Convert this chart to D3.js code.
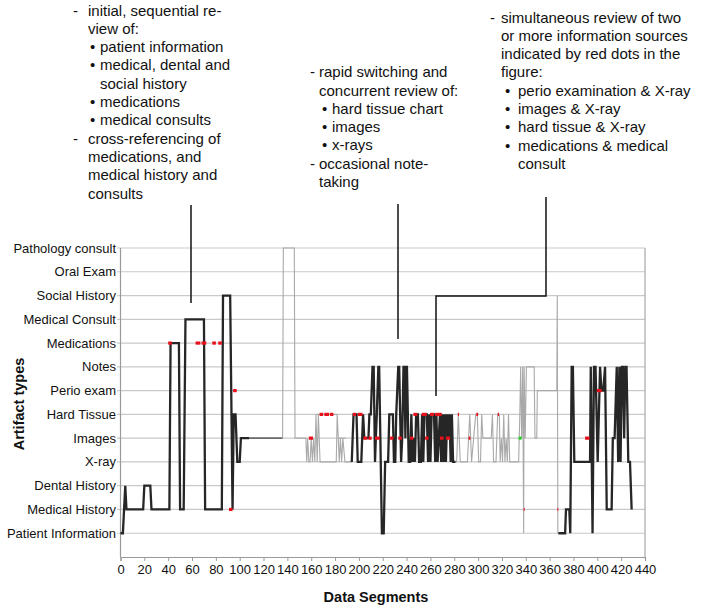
<!DOCTYPE html>
<html><head><meta charset="utf-8">
<script src="https://cdn.jsdelivr.net/npm/d3@7"></script>
<style>
html,body{margin:0;padding:0;background:#fff;}
svg{display:block;font-family:"Liberation Sans",Arial,sans-serif;}
</style></head>
<body>
<svg id="chart" width="701" height="610"></svg>
<script>
// ---- categories (level 1 .. 13, bottom to top)
const categories = ["Patient Information","Medical History","Dental History","X-ray","Images","Hard Tissue","Perio exam","Notes","Medications","Medical Consult","Social History","Oral Exam","Pathology consult"];
const xTicks = [0,20,40,60,80,100,120,140,160,180,200,220,240,260,280,300,320,340,360,380,400,420,440];

// ---- series: [segment, level]
const blackSeg1 = [[0,1],[2,1],[4,3],[5,2],[19,2],[20,3],[25,3],[26,2],[41,2],[42,9],[49,9],[50,2],[53,2],[54.5,10],[70,10],[71,2],[85,2],[86,11],[92,11],[94,2],[95,6],[96.5,6],[98,4],[100,4],[101,5],[108,5]];
const darkGraySeg = [[108,5],[136,5]];
const graySeg1 = [[136,5],[136.6,13],[145.8,13],[146.4,5],[155.5,5],[156.2,4],[157,5],[158,4],[159,4],[160,5],[161,4],[162,5],[163,4],[164,6],[165,4],[166,6],[167.4,4],[181,4],[181.8,6],[182.7,5],[183.5,4],[184.5,5],[185.5,4],[186.5,5],[188.3,4],[194,4]];
const grayFlats = [[164,181.8,6],[182.7,189,5]];
const blackSeg2 = [[194,4],[195.5,6],[198,6],[199,4],[202,4],[203.5,6],[204.5,5],[208,5],[208.8,6],[210,6],[211.4,8],[212.4,8],[213.5,4],[214.2,5],[215,6],[216.3,8],[217,8],[219.3,1],[220.8,1],[222,4],[224.5,4],[225.5,6],[228.5,6],[229.4,4],[230.5,4],[231.3,6],[233,8],[233.8,8],[235.4,4],[236.3,5],[237.4,8],[238.2,8],[239,5],[239.6,8],[240.3,8],[241.8,4],[243,4],[244,6],[245,4],[246,5],[247,4],[248,6],[249.5,6],[250.5,4],[252,4],[253,6],[254,4],[255,6],[257,6],[258,4],[259,6],[260,4],[261,6],[263,6],[264,4],[265,6],[266,4],[267,5],[268,6],[269,4],[270,6],[271,4],[272,6],[273,4],[274,6],[275,5],[276,6],[277,4],[278,6],[279,4],[281,4]];
const graySeg2 = [[279,4],[282,4],[283.4,6],[285,4],[291,4],[292,5],[293,6],[294.5,4],[298,6],[299.3,6],[300.5,4],[302,4],[303,6],[304,5],[311,5],[312,6],[313,4],[315,4],[316.4,6],[317.8,6],[318.5,4],[319.5,5],[320.5,4],[321.5,6],[322.5,4],[323.5,5],[324.5,4],[325.5,6],[326.5,4],[334,4],[335,6],[335.7,8],[336.5,5],[337.4,8],[338.2,1],[338.6,8],[339.5,5],[340.5,8],[347,8],[347.7,5],[349.2,5],[349.7,7],[366,7],[366.4,11],[366.9,1]];
const blackSeg3 = [[367.3,1],[373,1],[373.7,2],[376.5,2],[377.3,1],[378.5,8],[379.5,8],[380.7,4],[393.9,4],[394.5,8],[396,1],[397.2,8],[398.5,8],[400.3,4],[402.3,8],[403.5,7],[405,7],[406.5,8],[407.9,2],[412,2],[413,5],[414.5,5],[416.3,8],[417.5,4],[418.5,8],[419.5,4],[420.5,8],[421.5,8],[422.5,5],[423.5,8],[424.5,8],[426,4],[427.4,4],[428.8,2]];

// ---- simultaneous review marks: [from, to, level]
const redMarks = [[40,43,9],[63,67,9],[68,72,9],[77,80,9],[82,85,9],[91,94,2],[94.5,97.5,7],[158,161.5,5],[167,170,6],[171,175,6],[175.8,178.6,6],[195,197.5,6],[199,203,6],[203.8,207,5],[208,210.7,5],[213.5,217.5,5],[226,229,5],[233,236,5],[242.9,245.7,5],[245.7,249,6],[252.7,256.9,6],[255.5,258.3,5],[259.7,263,6],[264,269.5,6],[268,271,5],[273,276.5,5],[283,284,6],[292,293.5,5],[298.5,300,6],[316.5,317.5,6],[338.3,339,2],[366.5,367.2,2],[389.7,393.5,5],[399.5,403.7,7]];
const greenMarks = [[334,336.5,5]];

// ---- annotations
const noteLeft = [["-","initial, sequential re-"],["","view of:"],["•","patient information"],["•","medical, dental and"],["","social history"],["•","medications"],["•","medical consults"],["-","cross-referencing of"],["","medications, and"],["","medical history and"],["","consults"]];
const noteMid = [["-","rapid switching and"],["","concurrent review of:"],["•","hard tissue chart"],["•","images"],["•","x-rays"],["-","occasional note-"],["","taking"]];
const noteRight = [["-","simultaneous review of two"],["","or more information sources"],["","indicated by red dots in the"],["","figure:"],["•","perio examination & X-ray"],["•","images & X-ray"],["•","hard tissue & X-ray"],["•","medications & medical"],["","consult"]];

const svg = d3.select("#chart");
const x = d3.scaleLinear().domain([0,440]).range([120.5,645]);
const y = d3.scaleLinear().domain([0,13]).range([557,248]);

// gridlines
svg.append("g").selectAll("line").data(d3.range(1,14)).join("line")
  .attr("x1",117).attr("x2",645).attr("y1",d=>y(d)).attr("y2",d=>y(d))
  .attr("stroke","#c9c9c9").attr("stroke-width",1.2);
// frame
svg.append("line").attr("x1",645).attr("x2",645).attr("y1",y(13)).attr("y2",y(0)).attr("stroke","#a8a8a8").attr("stroke-width",1.2);
svg.append("line").attr("x1",120.5).attr("x2",120.5).attr("y1",y(13)).attr("y2",y(0)).attr("stroke","#999").attr("stroke-width",1.2);

// x axis
const xAxis = d3.axisBottom(x).tickValues(xTicks).tickSize(4).tickFormat(d3.format("d"));
const gx = svg.append("g").attr("transform",`translate(0,${y(0)})`).call(xAxis);
gx.select(".domain").attr("stroke","#999").attr("stroke-width",1.2);
gx.selectAll(".tick line").attr("stroke","#999");
gx.selectAll(".tick text").attr("font-size",13).attr("font-family","Liberation Sans, Arial, sans-serif").attr("fill","#111").attr("dy","0.85em").attr("y",6);

// y labels
const gy = svg.append("g");
gy.selectAll("text").data(categories).join("text")
  .attr("x",116).attr("y",(d,i)=>y(i+1)).attr("dy","0.35em")
  .attr("text-anchor","end").attr("font-size",13).attr("fill","#111").text(d=>d);

// axis titles
svg.append("text").attr("transform",`translate(24,404) rotate(-90)`).attr("text-anchor","middle")
  .attr("font-size",14.5).attr("font-weight","bold").attr("fill","#111").text("Artifact types");
svg.append("text").attr("x",376).attr("y",602).attr("text-anchor","middle")
  .attr("font-size",14.5).attr("font-weight","bold").attr("fill","#111").text("Data Segments");

const line = d3.line().x(d=>x(d[0])).y(d=>y(d[1]));

// gray series
const grayStyle = {stroke:"#a9a9a9", w:1.1};
svg.append("path").datum(darkGraySeg).attr("d",line).attr("fill","none")
  .attr("stroke","#6a6a6a").attr("stroke-width",1.6);
[graySeg1, graySeg2].forEach(s=>{
  svg.append("path").datum(s).attr("d",line).attr("fill","none")
    .attr("stroke",grayStyle.stroke).attr("stroke-width",grayStyle.w);
});
svg.append("g").selectAll("line").data(grayFlats).join("line")
  .attr("x1",d=>x(d[0])).attr("x2",d=>x(d[1])).attr("y1",d=>y(d[2])).attr("y2",d=>y(d[2]))
  .attr("stroke",grayStyle.stroke).attr("stroke-width",grayStyle.w);

// black series
[blackSeg1, blackSeg2, blackSeg3].forEach(s=>{
  svg.append("path").datum(s).attr("d",line).attr("fill","none")
    .attr("stroke","#262626").attr("stroke-width",2.3).attr("stroke-linejoin","miter");
});

// marks
svg.append("g").selectAll("line").data(redMarks).join("line")
  .attr("x1",d=>x(d[0])).attr("x2",d=>x(d[1])).attr("y1",d=>y(d[2])).attr("y2",d=>y(d[2]))
  .attr("stroke","#e8101a").attr("stroke-width",3.2);
svg.append("g").selectAll("line").data(greenMarks).join("line")
  .attr("x1",d=>x(d[0])).attr("x2",d=>x(d[1])).attr("y1",d=>y(d[2])).attr("y2",d=>y(d[2]))
  .attr("stroke","#22cc22").attr("stroke-width",3);

// annotation blocks
function block(rows, x0, base, opt){
  const g = svg.append("g").attr("font-size",15).attr("fill","#111");
  rows.forEach((r,i)=>{
    const yy = base + i*18.3;
    const isBullet = r[0]==="•";
    const indentBullet = isBullet || (i>0 && rows.slice(0,i+1).reverse().find(q=>q[0]!=="")[0]==="•");
    if(r[0]==="-") g.append("text").attr("x",x0+opt.dash).attr("y",yy).text("-");
    if(isBullet) g.append("text").attr("x",x0+opt.bullet).attr("y",yy).text("•");
    g.append("text").attr("x", x0 + (indentBullet?opt.btext:opt.text)).attr("y",yy).text(r[1]);
  });
}
block(noteLeft, 0, 15.5, {dash:73, text:88, bullet:90, btext:100});
block(noteMid, 0, 77.2, {dash:310, text:319, bullet:322, btext:332});
block(noteRight, 0, 22.5, {dash:490, text:501, bullet:505, btext:518});

// leader lines
const leaders = [[[191,205],[191,303]],[[398,204],[398,339]],[[546,197],[546,296],[436,296],[436,396]]];
const pl = d3.line();
leaders.forEach(p=>svg.append("path").attr("d",pl(p)).attr("fill","none").attr("stroke","#111").attr("stroke-width",1.5));
</script>
</body></html>
